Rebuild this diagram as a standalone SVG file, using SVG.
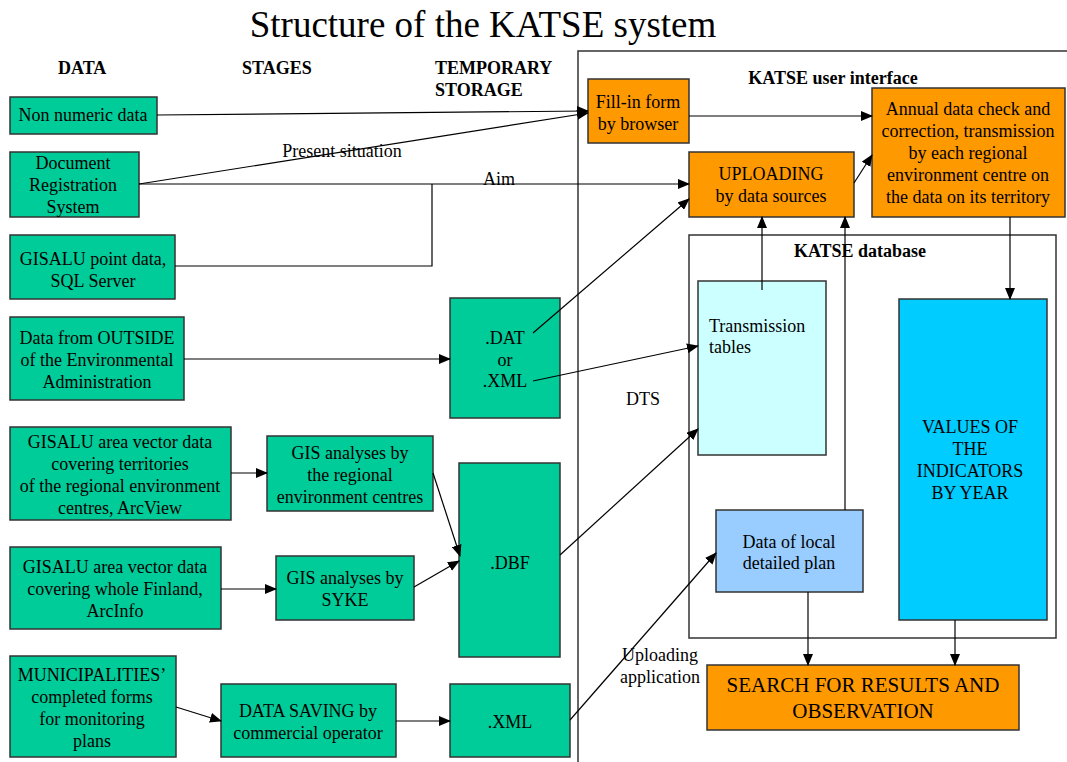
<svg xmlns="http://www.w3.org/2000/svg" width="1067" height="762" viewBox="0 0 1067 762">
<defs>
<marker id="ah" markerWidth="12" markerHeight="10" refX="11" refY="5" orient="auto" markerUnits="userSpaceOnUse">
<path d="M0,0 L12,5 L0,10 Z" fill="#000"/>
</marker>
<style>
.t{font-size:18px;text-anchor:middle}
.l{font-size:18px}
.h{font-size:18px;font-weight:bold}
.s{font-size:21px;text-anchor:middle}
.g{fill:#00CC99;stroke:#333;stroke-width:1.5}
.o{fill:#FF9900;stroke:#333;stroke-width:1.5}
.c{stroke:#000;stroke-width:1.2;fill:none}
.a{marker-end:url(#ah)}
.f{fill:none;stroke:#333;stroke-width:1.5}
</style>
</defs>
<rect width="1067" height="762" fill="#fff"/>
<g font-family="Liberation Serif" fill="#000">
<text x="483" y="37" font-size="37" text-anchor="middle">Structure of the KATSE system</text>
<text class="h" x="58" y="74">DATA</text>
<text class="h" x="242" y="74">STAGES</text>
<text class="h" x="435" y="74">TEMPORARY</text>
<text class="h" x="435" y="96">STORAGE</text>
<path class="f" d="M1067,51 L578,51 L578,762"/>
<text class="h" x="833" y="84" text-anchor="middle">KATSE user interface</text>
<g id="db-frame">
<rect class="f" x="689" y="235" width="367" height="403"/>
<text class="h" x="860" y="257" text-anchor="middle">KATSE database</text>
</g>
<g id="non-numeric">
<rect class="g" x="10" y="97" width="147" height="37"/>
<text class="t" x="83" y="121">Non numeric data</text>
</g>
<g id="doc-reg">
<rect class="g" x="10" y="152" width="129" height="65"/>
<text class="t" x="73" y="169">Document</text>
<text class="t" x="73" y="191">Registration</text>
<text class="t" x="73" y="213">System</text>
</g>
<g id="gisalu-point">
<rect class="g" x="10" y="235" width="165" height="64"/>
<text class="t" x="93" y="265">GISALU point data,</text>
<text class="t" x="93" y="287">SQL Server</text>
</g>
<g id="outside">
<rect class="g" x="10" y="317" width="174" height="83"/>
<text class="t" x="97" y="344">Data from OUTSIDE</text>
<text class="t" x="97" y="366">of the Environmental</text>
<text class="t" x="97" y="388">Administration</text>
</g>
<g id="area-regional">
<rect class="g" x="10" y="427" width="221" height="93"/>
<text class="t" x="120" y="448">GISALU area vector data</text>
<text class="t" x="120" y="470">covering territories</text>
<text class="t" x="120" y="492">of the regional environment</text>
<text class="t" x="120" y="514">centres, ArcView</text>
</g>
<g id="gis-regional">
<rect class="g" x="267" y="436" width="166" height="75"/>
<text class="t" x="350" y="459">GIS analyses by</text>
<text class="t" x="350" y="481">the regional</text>
<text class="t" x="350" y="503">environment centres</text>
</g>
<g id="area-finland">
<rect class="g" x="10" y="547" width="211" height="82"/>
<text class="t" x="115" y="573">GISALU area vector data</text>
<text class="t" x="115" y="595">covering whole Finland,</text>
<text class="t" x="115" y="617">ArcInfo</text>
</g>
<g id="gis-syke">
<rect class="g" x="276" y="556" width="138" height="64"/>
<text class="t" x="345" y="584">GIS analyses by</text>
<text class="t" x="345" y="606">SYKE</text>
</g>
<g id="municipalities">
<rect class="g" x="10" y="656" width="166" height="101"/>
<text class="t" x="92" y="681">MUNICIPALITIES’</text>
<text class="t" x="92" y="703">completed forms</text>
<text class="t" x="92" y="725">for monitoring</text>
<text class="t" x="92" y="747">plans</text>
</g>
<g id="data-saving">
<rect class="g" x="221" y="684" width="175" height="73"/>
<text class="t" x="308" y="717">DATA SAVING by</text>
<text class="t" x="308" y="739">commercial operator</text>
</g>
<g id="dat-xml">
<rect class="g" x="450" y="298" width="110" height="120"/>
<text class="t" x="505" y="344">.DAT</text>
<text class="t" x="505" y="366">or</text>
<text class="t" x="505" y="387">.XML</text>
</g>
<g id="dbf">
<rect class="g" x="459" y="463" width="101" height="194"/>
<text class="t" x="510" y="569">.DBF</text>
</g>
<g id="xml">
<rect class="g" x="450" y="684" width="120" height="73"/>
<text class="t" x="510" y="728">.XML</text>
</g>
<g id="fill-in">
<rect class="o" x="588" y="79" width="101" height="64"/>
<text class="t" x="638" y="108">Fill-in form</text>
<text class="t" x="638" y="130">by browser</text>
</g>
<g id="uploading">
<rect class="o" x="689" y="152" width="165" height="65"/>
<text class="t" x="771" y="180">UPLOADING</text>
<text class="t" x="771" y="202">by data sources</text>
</g>
<g id="annual">
<rect class="o" x="872" y="88" width="193" height="129"/>
<text class="t" x="968" y="115">Annual data check and</text>
<text class="t" x="968" y="137">correction, transmission</text>
<text class="t" x="968" y="159">by each regional</text>
<text class="t" x="968" y="181">environment centre on</text>
<text class="t" x="968" y="203">the data on its territory</text>
</g>
<g id="transmission">
<rect x="698" y="281" width="128" height="174" fill="#CCFFFF" stroke="#333" stroke-width="1.5"/>
<text class="l" x="709" y="332">Transmission</text>
<text class="l" x="709" y="353">tables</text>
</g>
<g id="local-plan">
<rect x="716" y="510" width="147" height="82" fill="#99CCFF" stroke="#333" stroke-width="1.5"/>
<text class="t" x="789" y="548">Data of local</text>
<text class="t" x="789" y="569">detailed plan</text>
</g>
<g id="values">
<rect x="899" y="299" width="148" height="321" fill="#00CCFF" stroke="#333" stroke-width="1.5"/>
<text class="t" x="970" y="433">VALUES OF</text>
<text class="t" x="970" y="455">THE</text>
<text class="t" x="970" y="477">INDICATORS</text>
<text class="t" x="970" y="499">BY YEAR</text>
</g>
<g id="search">
<rect class="o" x="707" y="665" width="312" height="65"/>
<text class="s" x="863" y="692">SEARCH FOR RESULTS AND</text>
<text class="s" x="863" y="718">OBSERVATION</text>
</g>
<g id="connectors">
<path class="c a" d="M157,115 L588,111"/>
<path class="c a" d="M139,184 L588,113"/>
<path class="c a" d="M139,184 L689,184"/>
<path class="c" d="M175,266 L432,266 L432,184"/>
<path class="c a" d="M184,359 L450,359"/>
<path class="c a" d="M533,333 L689,199"/>
<path class="c a" d="M533,381 L698,346"/>
<path class="c a" d="M231,473 L267,473"/>
<path class="c a" d="M433,473 L460,556"/>
<path class="c a" d="M221,589 L276,589"/>
<path class="c a" d="M414,587 L459,561"/>
<path class="c a" d="M176,707 L221,721"/>
<path class="c a" d="M396,721 L450,721"/>
<path class="c a" d="M560,555 L698,429"/>
<path class="c a" d="M570,720 L716,553"/>
<path class="c a" d="M689,116 L872,116"/>
<path class="c a" d="M854,183 L872,155"/>
<path class="c a" d="M1010,217 L1010,299"/>
<path class="c a" d="M762,290 L762,217"/>
<path class="c a" d="M845,510 L845,217"/>
<path class="c a" d="M808,592 L808,665"/>
<path class="c a" d="M955,620 L955,665"/>
<text class="t" x="342" y="157">Present situation</text>
<text class="t" x="499" y="185">Aim</text>
<text class="t" x="643" y="405">DTS</text>
<text class="t" x="660" y="661">Uploading</text>
<text class="t" x="660" y="683">application</text>
</g>
</g>
</svg>
